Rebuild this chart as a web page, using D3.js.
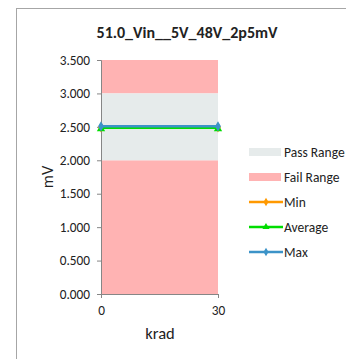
<!DOCTYPE html>
<html><head><meta charset="utf-8">
<script src="https://cdn.jsdelivr.net/npm/d3@7"></script>
<style>body{margin:0;background:#fff}svg{display:block;font-family:Carlito,"Liberation Sans",Arial,sans-serif}</style>
</head><body><svg id="c" width="346" height="359"></svg>
<script>
const title = "51.0_Vin__5V_48V_2p5mV";
const xValues = [0, 30];
const minSeries = [2.5, 2.5];
const avgSeries = [2.5, 2.5];
const maxSeries = [2.5, 2.5];
const passRange = [2.0, 3.0];
const failLow = [0, 2.0];
const failHigh = [3.0, 3.5];
const yTicks = [0, 0.5, 1.0, 1.5, 2.0, 2.5, 3.0, 3.5];
const xTicks = [0, 30];
const legendItems = ["Pass Range", "Fail Range", "Min", "Average", "Max"];
const colors = {pass:"#E6EBEB", fail:"#FFB3B3", min:"#FF9900", avg:"#00DD00", max:"#3C93C8"};

const svg = d3.select("#c");
svg.append("rect").attr("x",16.5).attr("y",8.5).attr("width",400).attr("height",400)
  .attr("fill","none").attr("stroke","#a6a6a6").attr("stroke-width",1);

const x = d3.scaleLinear().domain([0,30]).range([101,218]);
const y = d3.scaleLinear().domain([0,3.5]).range([294,60]);

svg.append("text").attr("x",187).attr("y",38).attr("text-anchor","middle")
  .attr("font-weight","bold").attr("font-size",16).attr("fill","#222").text(title);

// bands
const band = (r,c)=>svg.append("rect").attr("x",x(0)).attr("width",x(30)-x(0))
  .attr("y",y(r[1])).attr("height",y(r[0])-y(r[1])).attr("fill",c);
band(failLow, colors.fail); band(failHigh, colors.fail); band(passRange, colors.pass);

// axes
const yAxis = d3.axisLeft(y).tickValues(yTicks).tickFormat(d3.format(".3f")).tickSize(4).tickPadding(7);
const gy = svg.append("g").attr("transform",`translate(${x(0)},0)`).call(yAxis);
const xAxis = d3.axisBottom(x).tickValues(xTicks).tickSize(4).tickPadding(8);
const gx = svg.append("g").attr("transform",`translate(0,${y(0)})`).call(xAxis);
[gx,gy].forEach(g=>{
  g.selectAll(".domain").attr("stroke","#868686");
  g.selectAll(".tick line").attr("stroke","#868686");
  g.selectAll("text").attr("font-size",13.3).attr("fill","#222").attr("font-family",'Carlito,"Liberation Sans",Arial,sans-serif');
});

svg.append("text").attr("x",160).attr("y",339).attr("text-anchor","middle").attr("font-size",16.5).attr("fill","#222").text("krad");
svg.append("text").attr("transform","translate(53,177) rotate(-90)").attr("text-anchor","middle").attr("font-size",16.5).attr("fill","#222").text("mV");

const line = d3.line().x((d,i)=>x(xValues[i])).y(d=>y(d));
function series(vals,color,marker,dy){
  svg.append("path").datum(vals).attr("d",line).attr("fill","none").attr("stroke",color).attr("stroke-width",2.5)
    .attr("transform",`translate(0,${dy})`);
  vals.forEach((v,i)=>{
    const cx=x(xValues[i]), cy=y(v)+dy;
    if(marker==="tri") svg.append("path").attr("d",d3.symbol(d3.symbolTriangle,30)()).attr("transform",`translate(${cx},${cy+1})`).attr("fill",color);
    else svg.append("path").attr("d",d3.symbol(d3.symbolDiamond,30)()).attr("transform",`translate(${cx},${cy})`).attr("fill",color);
  });
}
series(minSeries, colors.min, "dia", 0.5);
series(avgSeries, colors.avg, "tri", 1);
series(maxSeries, colors.max, "dia", -0.5);

// legend
const ly0 = 152, ldy = 25;
legendItems.forEach((name,i)=>{
  const ly = ly0 + i*ldy;
  const g = svg.append("g");
  if(i<2){
    g.append("rect").attr("x",249).attr("y",ly-4).attr("width",32).attr("height",8).attr("fill",i===0?colors.pass:colors.fail);
  } else {
    const c = [colors.min,colors.avg,colors.max][i-2];
    g.append("line").attr("x1",249).attr("x2",283).attr("y1",ly).attr("y2",ly).attr("stroke",c).attr("stroke-width",2.5);
    g.append("path").attr("d",d3.symbol(i===3?d3.symbolTriangle:d3.symbolDiamond,22)()).attr("transform",`translate(266,${ly})`).attr("fill",c);
  }
  g.append("text").attr("x",284).attr("y",ly+4.5).attr("font-size",13.5).attr("fill","#222").text(name);
});
</script></body></html>
